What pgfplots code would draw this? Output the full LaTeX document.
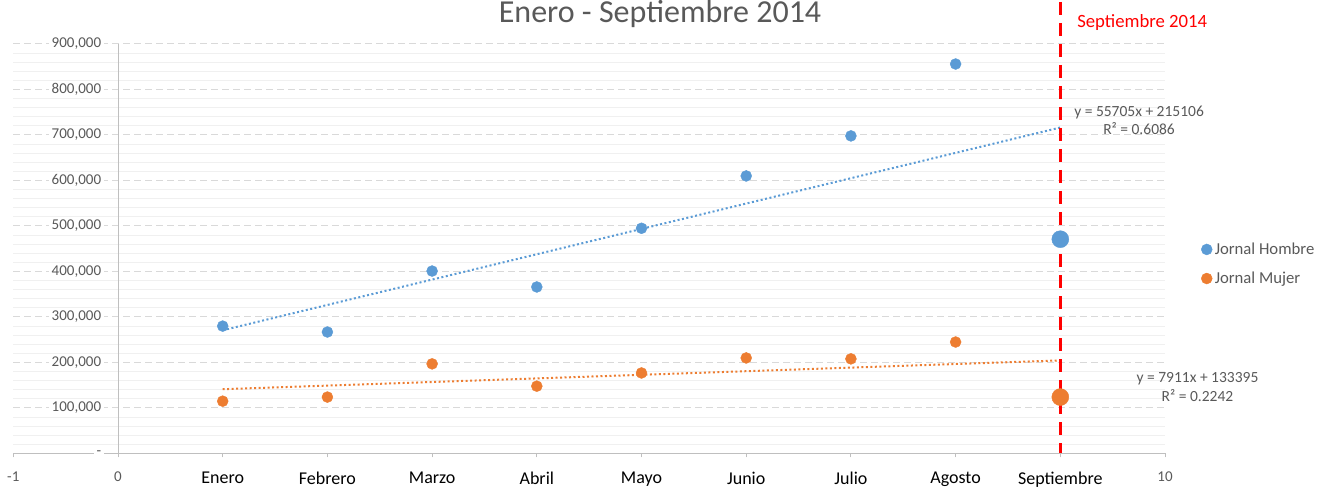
\documentclass[border=0pt]{standalone}
\usepackage{pgfplots}
\pgfplotsset{compat=1.18}
\usepackage{fontspec}
\setmainfont{Carlito}
\definecolor{hblue}{HTML}{5B9BD5}
\definecolor{morange}{HTML}{ED7D31}
\definecolor{txtgray}{HTML}{595959}
\definecolor{gridmaj}{HTML}{D9D9D9}
\definecolor{gridmin}{HTML}{F0F0F0}
\definecolor{axgray}{HTML}{BFBFBF}
\begin{document}
\begin{tikzpicture}[x=1bp,y=1bp]
\useasboundingbox (-13.3,-35.5) rectangle (1310.7,453.5);
\begin{axis}[
  at={(0,0)}, anchor=south west,
  scale only axis, width=1151.7bp, height=409.5bp,
  xmin=-1, xmax=10, ymin=0, ymax=900000,
  clip=false,
  axis x line*=bottom, axis y line*=left,
  x axis line style={axgray, line width=1bp, -},
  y axis line style={draw=none},
  xtick={1,...,9},
  xticklabels={Enero,Febrero,Marzo,Abril,Mayo,Junio,Julio,Agosto,Septiembre},
  xticklabel style={font=\fontsize{18bp}{20bp}\selectfont, text=black, yshift=-11bp},
  tick align=outside, major tick length=4bp,
  xtick style={axgray, line width=1bp},
  extra x ticks={-1,0,10}, extra x tick labels={-1,0,10},
  extra x tick style={xmajorgrids=false, tick style={axgray, line width=1bp},
    xticklabel style={font=\fontsize{15bp}{17bp}\selectfont, text=txtgray, yshift=0.5bp}},
  ytick={0,100000,...,900000},
  yticklabels={{-\hspace{7bp}},{100,000},{200,000},{300,000},{400,000},{500,000},{600,000},{700,000},{800,000},{900,000}},
  yticklabel style={font=\fontsize{15bp}{17bp}\selectfont, text=txtgray, fill=white, anchor=east, xshift=95bp, inner xsep=3bp, inner ysep=1bp},
  ytick style={draw=none}, minor y tick style={draw=none},
  minor y tick num=4,
  ymajorgrids, yminorgrids,
  major grid style={gridmaj, dash pattern=on 7bp off 4bp, line width=1bp},
  minor grid style={gridmin, line width=1bp},
  scaled y ticks=false,
  legend image code/.code={\draw[#1, only marks] plot coordinates {(5bp,0bp)};},
  legend cell align=left,
  legend style={draw=none, fill=none, at={(1.0313,0.4628)}, anchor=west, inner sep=0pt,
    font=\fontsize{16.7bp}{20bp}\selectfont, text=txtgray, row sep=12bp,
    nodes={inner xsep=2.5bp}},
]
\draw[axgray, line width=1bp] (axis cs:0,0) -- (axis cs:0,900000);
\addplot[only marks, mark=*, mark size=5.5bp, color=hblue]
  coordinates {(1,280000) (2,267000) (3,401000) (4,366000) (5,495000) (6,610000) (7,698000) (8,856000)};
\addlegendentry{Jornal Hombre}
\addplot[only marks, mark=*, mark size=5.5bp, color=morange]
  coordinates {(1,115000) (2,124000) (3,197000) (4,148000) (5,177000) (6,210000) (7,208000) (8,245000)};
\addlegendentry{Jornal Mujer}
\addplot[only marks, mark=*, mark size=8.5bp, color=hblue, forget plot] coordinates {(9,471000)};
\addplot[only marks, mark=*, mark size=8.5bp, color=morange, forget plot] coordinates {(9,124000)};
\addplot[hblue, line width=2bp, dash pattern=on 2bp off 2.5bp, forget plot] coordinates {(1,270811) (9,716451)};
\addplot[morange, line width=2bp, dash pattern=on 2bp off 2.5bp, forget plot] coordinates {(1,141306) (9,204594)};
\draw[red, line width=3.5bp, dash pattern=on 13bp off 8bp] ([yshift=42bp]axis cs:9,900000) -- (axis cs:9,2000);
\node[anchor=base, inner sep=0pt, font=\fontsize{32bp}{36bp}\selectfont, text=txtgray] at ([yshift=21bp]axis cs:5.177,900000) {Enero - Septiembre 2014};
\node[anchor=base west, inner sep=0pt, font=\fontsize{18.7bp}{22bp}\selectfont, text=red] at ([yshift=16bp]axis cs:9.160,900000) {Septiembre 2014};
\node[anchor=base, inner sep=0pt, font=\fontsize{15.5bp}{18bp}\selectfont, text=txtgray] at (axis cs:9.752,739560) {y = 55705x + 215106};
\node[anchor=base, inner sep=0pt, font=\fontsize{15.5bp}{18bp}\selectfont, text=txtgray] at (axis cs:9.752,700000) {R² = 0.6086};
\node[anchor=base, inner sep=0pt, font=\fontsize{15.5bp}{18bp}\selectfont, text=txtgray] at (axis cs:10.310,154945) {y = 7911x + 133395};
\node[anchor=base, inner sep=0pt, font=\fontsize{15.5bp}{18bp}\selectfont, text=txtgray] at (axis cs:10.310,113187) {R² = 0.2242};
\end{axis}
\end{tikzpicture}
\end{document}
